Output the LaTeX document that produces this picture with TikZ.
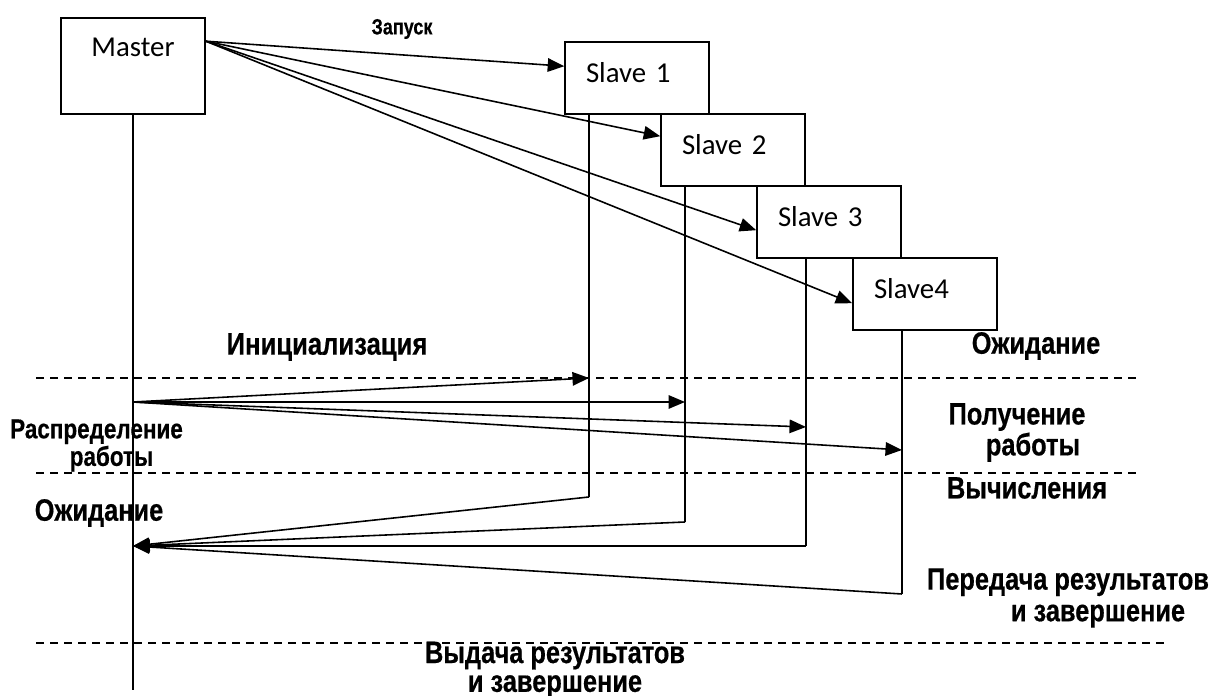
\documentclass[tikz,border=0pt]{standalone}
\usepackage{fontspec}
\setmainfont{Liberation Sans}
\newfontfamily\boxfont{Carlito}
\newfontfamily\lblfont{Liberation Sans}[FakeStretch=0.82, FakeBold=0.5]
\usetikzlibrary{positioning,arrows.meta,calc}

\begin{document}
\begin{tikzpicture}[
    box/.style={rectangle, draw, line width=0.9pt, minimum width=2.88cm, minimum height=1.44cm, font=\boxfont\fontsize{16.4}{19}\selectfont},
    slave/.style={box, inner xsep=0.42cm, text width=2.04cm, align=left, text depth=0.22cm},
    life/.style={line width=0.9pt},
    msg/.style={line width=0.9pt, -{Triangle[length=0.33cm,width=0.27cm]}},
    divider/.style={line width=0.7pt, dash pattern=on 0.16cm off 0.12cm},
    lbl/.style={font=\lblfont\bfseries\fontsize{17.6}{17}\selectfont, align=center, inner sep=0pt}
]
\useasboundingbox (0,0) rectangle (24.28,13.92);

% Processes
\node[box, minimum height=1.92cm, label={[anchor=north, yshift=-0.3cm, font=\boxfont\fontsize{16.4}{19}\selectfont]north:Master}] (master) at (2.66,12.60) {};
\node[slave] (s1) at (12.74,12.36) {Slave 1};
\node[slave] (s2) at (14.66,10.92) {Slave 2};
\node[slave] (s3) at (16.58,9.48) {Slave 3};
\node[slave] (s4) at (18.50,8.04) {Slave4};

% Lifeline ends
\coordinate (mend) at (2.66,0.12);
\coordinate (e1) at (11.78,3.98);
\coordinate (e2) at (13.70,3.48);
\coordinate (e3) at (16.12,3.00);
\coordinate (e4) at (18.04,2.04);

% Lifelines
\draw[life] (master.south) -- (mend);
\draw[life] (e1 |- s1.south) -- (e1);
\draw[life] (e2 |- s2.south) -- (e2);
\draw[life] (e3 |- s3.south) -- (e3);
\draw[life] (e4 |- s4.south) -- (e4);

% Launch
\draw[msg] ([yshift=-0.48cm]master.north east) -- ([yshift=-0.50cm]s1.north west);
\draw[msg] ([yshift=-0.48cm]master.north east) -- ([yshift=-0.46cm]s2.north west);
\draw[msg] ([yshift=-0.48cm]master.north east) -- ([yshift=-0.90cm]s3.north west);
\draw[msg] ([yshift=-0.48cm]master.north east) -- ([yshift=-0.92cm]s4.north west);

% Phase borders
\draw[divider] (0.72,6.36) -- (22.74,6.36);
\draw[divider] (0.72,4.46) -- (22.74,4.46);
\draw[divider] (0.72,1.06) -- (23.30,1.06);

% Work distribution
\coordinate (dist) at (2.66,5.88);
\coordinate (r1) at (11.78,6.36);
\coordinate (r2) at (13.70,5.88);
\coordinate (r3) at (16.12,5.38);
\coordinate (r4) at (18.04,4.92);
\draw[msg] (dist) -- (r1);
\draw[msg] (dist) -- (r2);
\draw[msg] (dist) -- (r3);
\draw[msg] (dist) -- (r4);

% Results back to master
\coordinate (back) at (2.66,3.00);
\draw[msg] (e1) -- (back);
\draw[msg] (e2) -- (back);
\draw[msg] (e3) -- (back);
\draw[msg] (e4) -- (back);

% Labels
\node[lbl, font=\lblfont\bfseries\fontsize{12.5}{13}\selectfont] (launch) at (8.04,13.34) {Запуск};
\node[lbl, font=\lblfont\bfseries\fontsize{17.8}{18}\selectfont] (init) at (6.54,6.98) {Инициализация};
\node[lbl] (waitr) at (20.72,7.00) {Ожидание};
\node[lbl, font=\lblfont\bfseries\fontsize{17.6}{15.5}\selectfont] (getw) at (20.34,5.27) {Получение\\\hspace*{0.64cm}работы};
\node[lbl] (calc) at (20.54,4.16) {Вычисления};
\node[lbl, font=\lblfont\bfseries\fontsize{15.6}{14.5}\selectfont] (distw) at (1.93,5.01) {Распределение\\\hspace*{0.6cm}работы};
\node[lbl] (waitl) at (1.98,3.66) {Ожидание};
\node[lbl, font=\lblfont\bfseries\fontsize{17.6}{18}\selectfont] (send) at (21.36,1.96) {Передача результатов\\\hspace*{1.2cm}и завершение};
\node[lbl, font=\lblfont\bfseries\fontsize{17.6}{16.4}\selectfont] (final) at (11.10,0.52) {Выдача результатов\\и завершение};

\end{tikzpicture}
\end{document}
